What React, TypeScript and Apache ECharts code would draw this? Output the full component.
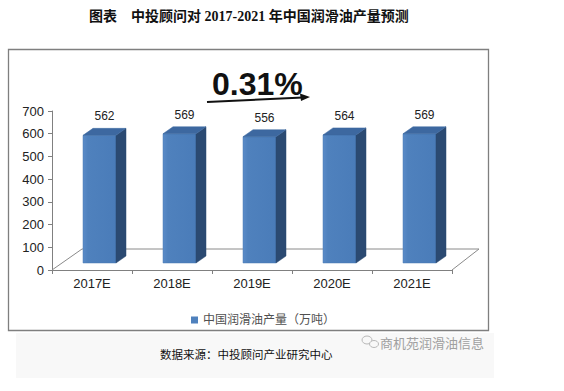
import React, { useEffect, useRef } from "react";
import * as echarts from "echarts";

const categories = ["2017E", "2018E", "2019E", "2020E", "2021E"];
const production = [562, 569, 556, 564, 569];
const seriesName = "中国润滑油产量（万吨）";
const yTicks = { min: 0, max: 700, interval: 100 };
const growthLabel = "0.31%";
const titleText = "图表　中投顾问对 2017-2021 年中国润滑油产量预测";
const sourceText = "数据来源：中投顾问产业研究中心";
const watermarkText = "商机苑润滑油信息";

const SANS = "'Liberation Sans', Arial, 'Noto Sans CJK SC', sans-serif";

export default function App() {
  const ref = useRef<HTMLDivElement>(null);
  useEffect(() => {
    if (!ref.current) return;
    const chart = echarts.init(ref.current, undefined, { renderer: "svg" });
    const depthX = 10;
    const depthY = -7;
    const option: any = {
      animation: false,
      backgroundColor: "#ffffff",
      grid: { left: 52, right: 112, top: 111, bottom: 121 },
      legend: {
        data: [seriesName],
        left: 186,
        top: 309,
        icon: "rect",
        itemWidth: 7,
        itemHeight: 7,
        itemGap: 5,
        textStyle: { fontSize: 12, color: "#505050", fontFamily: SANS },
      },
      xAxis: {
        type: "category",
        data: categories,
        boundaryGap: true,
        axisLine: { show: true, lineStyle: { color: "#808080", width: 1 } },
        axisTick: { show: true, length: 4, lineStyle: { color: "#808080" } },
        axisLabel: { fontSize: 13, color: "#222", margin: 7, fontFamily: SANS },
        splitLine: { show: false },
      },
      yAxis: {
        type: "value",
        min: yTicks.min,
        max: yTicks.max,
        interval: yTicks.interval,
        axisLine: { show: true, lineStyle: { color: "#808080", width: 1 } },
        axisTick: { show: true, length: 4, lineStyle: { color: "#808080" } },
        axisLabel: { fontSize: 13, color: "#222", margin: 8, fontFamily: SANS },
        splitLine: { show: false },
      },
      series: [
        {
          type: "custom",
          name: "floor",
          silent: true,
          data: [[0, 0]],
          encode: { x: 0, y: 1 },
          renderItem: (params: any, api: any) => {
            const bw = api.size([1, 0])[0];
            const pL = api.coord([0, 0]);
            const pR = api.coord([categories.length - 1, 0]);
            const xL = pL[0] - bw / 2;
            const xR = pR[0] + bw / 2;
            const y0 = pL[1];
            const style = { stroke: "#8a8a8a", lineWidth: 1, fill: null };
            return {
              type: "group",
              children: [
                { type: "line", shape: { x1: xL, y1: y0, x2: xL + 30, y2: y0 - 21 }, style },
                { type: "line", shape: { x1: xL + 30, y1: y0 - 21, x2: xR + 27, y2: y0 - 21 }, style },
                { type: "line", shape: { x1: xR, y1: y0, x2: xR + 27, y2: y0 - 21 }, style },
              ],
            };
          },
        },
        {
          type: "custom",
          name: seriesName,
          itemStyle: { color: "#4f81bd" },
          data: production.map((v, i) => [i, v]),
          encode: { x: 0, y: 1 },
          renderItem: (params: any, api: any) => {
            const i = api.value(0);
            const v = api.value(1);
            const bw = api.size([1, 0])[0];
            const p0 = api.coord([i, 0]);
            const p1 = api.coord([i, v]);
            const left = p0[0] - bw * 0.1125;
            const right = p0[0] + bw * 0.3;
            const bottom = p0[1] - 7;
            const top = p1[1] - 7;
            return {
              type: "group",
              children: [
                {
                  type: "rect",
                  shape: { x: left, y: top, width: right - left, height: bottom - top },
                  style: {
                    fill: new echarts.graphic.LinearGradient(0, 0, 1, 0, [
                      { offset: 0, color: "#5a8bc8" },
                      { offset: 0.15, color: "#4f81bd" },
                      { offset: 1, color: "#4a7cb9" },
                    ]),
                    stroke: "#4a78b0",
                    lineWidth: 0.5,
                  },
                },
                {
                  type: "polygon",
                  shape: {
                    points: [
                      [right, top],
                      [right + depthX, top + depthY],
                      [right + depthX, bottom + depthY],
                      [right, bottom],
                    ],
                  },
                  style: { fill: "#2b4a72", stroke: "#2b4a72", lineWidth: 0.5 },
                },
                {
                  type: "polygon",
                  shape: {
                    points: [
                      [left, top],
                      [right, top],
                      [right + depthX, top + depthY],
                      [left + depthX, top + depthY],
                    ],
                  },
                  style: { fill: "#3d68a0", stroke: "#3d68a0", lineWidth: 0.5 },
                },
                {
                  type: "text",
                  style: {
                    text: String(v),
                    x: (left + right + depthX) / 2,
                    y: top + depthY - 12,
                    align: "center",
                    verticalAlign: "middle",
                    fontSize: 12,
                    fontFamily: SANS,
                    fill: "#222",
                  },
                },
              ],
            };
          },
        },
      ],
      graphic: [
        {
          type: "rect",
          z: -10,
          shape: { x: 16, y: 333, width: 478, height: 45 },
          style: { fill: "#f8f8f8" },
        },
        {
          type: "rect",
          shape: { x: 8.5, y: 49.5, width: 480, height: 281 },
          style: { fill: null, stroke: "#7f7f7f", lineWidth: 1.3 },
        },
        {
          type: "text",
          style: {
            text: titleText,
            x: 89,
            y: 16,
            verticalAlign: "middle",
            fontSize: 14,
            fontWeight: "bold",
            fontFamily: "'Liberation Serif', 'Noto Sans CJK SC', serif",
            fill: "#111",
          },
        },
        {
          type: "text",
          style: {
            text: growthLabel,
            x: 212,
            y: 84,
            verticalAlign: "middle",
            fontSize: 32,
            fontWeight: "bold",
            fontFamily: SANS,
            fill: "#111",
          },
        },
        {
          type: "line",
          shape: { x1: 207, y1: 102, x2: 303, y2: 97.5 },
          style: { stroke: "#111", lineWidth: 2 },
        },
        {
          type: "polygon",
          shape: { points: [[310, 97], [300, 93.5], [301, 101]] },
          style: { fill: "#111" },
        },
        {
          type: "text",
          style: {
            text: sourceText,
            x: 160,
            y: 354,
            verticalAlign: "middle",
            fontSize: 11.5,
            fontFamily: "'Noto Sans CJK SC', sans-serif",
            fill: "#111",
          },
        },
        {
          type: "ellipse",
          shape: { cx: 367, cy: 340, rx: 5, ry: 4 },
          style: { fill: null, stroke: "#b8b8b8", lineWidth: 1 },
        },
        {
          type: "ellipse",
          shape: { cx: 374, cy: 344, rx: 4.5, ry: 3.5 },
          style: { fill: "#f8f8f8", stroke: "#b8b8b8", lineWidth: 1 },
        },
        {
          type: "text",
          style: {
            text: watermarkText,
            x: 380,
            y: 342,
            verticalAlign: "middle",
            fontSize: 13,
            fontFamily: "'Noto Sans CJK SC', sans-serif",
            fill: "#a0a0a0",
          },
        },
      ],
    };
    chart.setOption(option);
    return () => chart.dispose();
  }, []);
  return (
    <div
      ref={ref}
      style={{ position: "fixed", left: 0, top: 0, width: 564, height: 391 }}
    />
  );
}
